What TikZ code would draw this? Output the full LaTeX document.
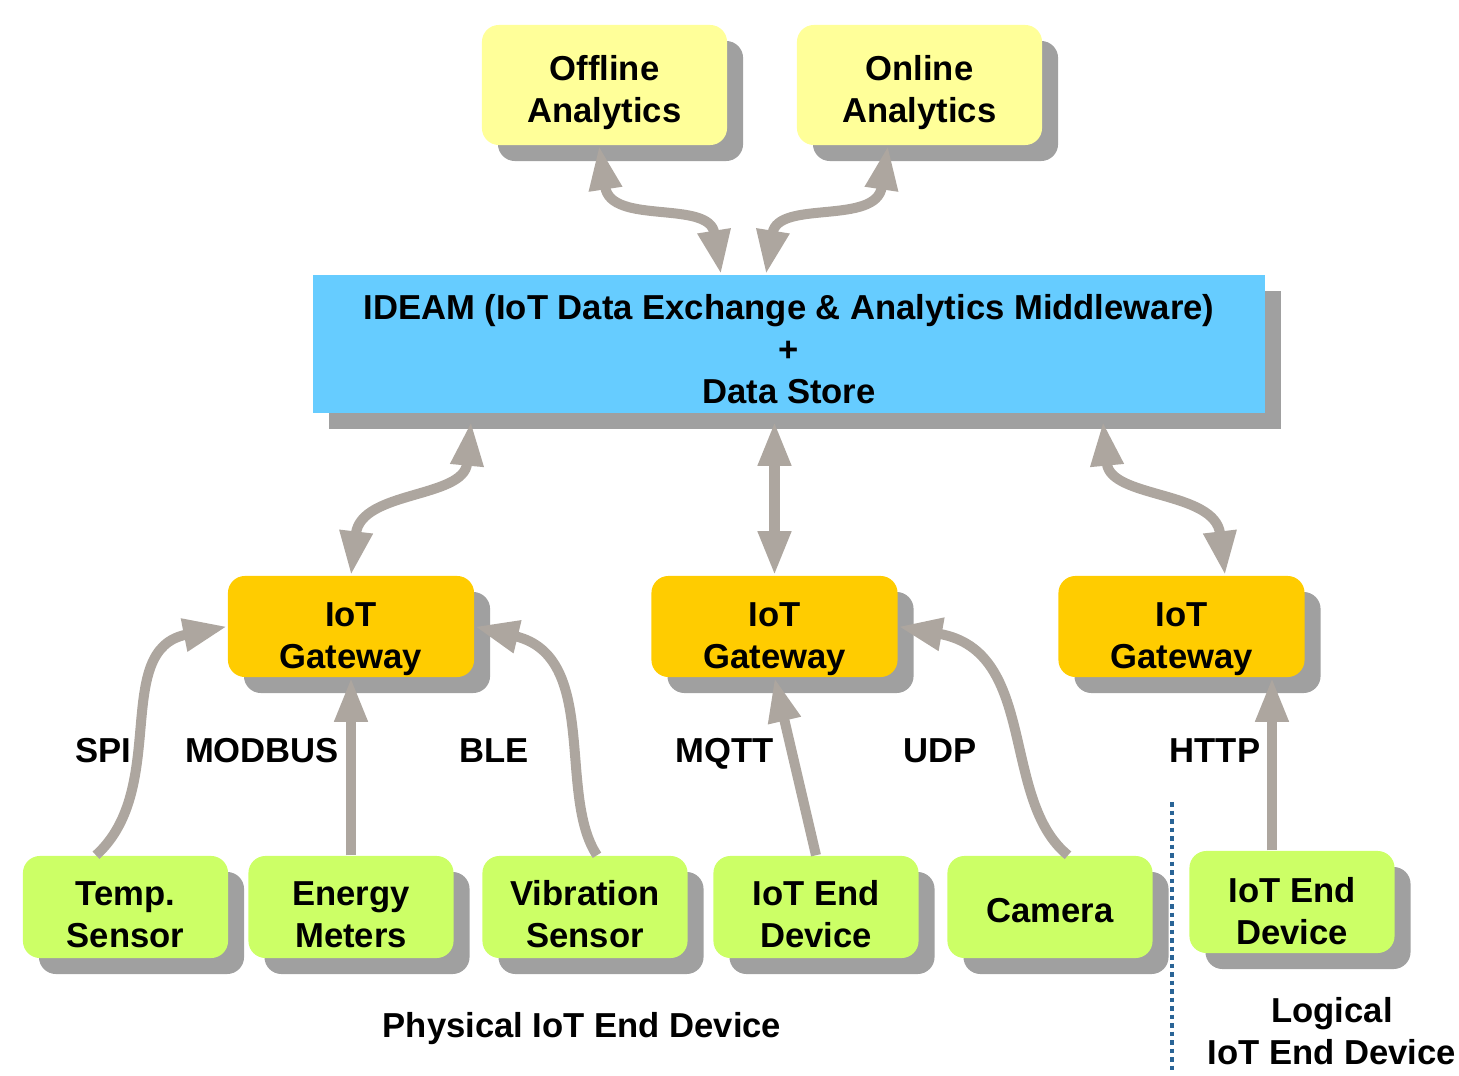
\documentclass[tikz,border=0pt]{standalone}
\usepackage{fontspec}
\setmainfont{Liberation Sans}
\usetikzlibrary{arrows.meta,shadows}

\definecolor{anyellow}{HTML}{FFFF99}
\definecolor{midblue}{HTML}{66CCFF}
\definecolor{gwgold}{HTML}{FFCC00}
\definecolor{devgreen}{HTML}{CCFF66}
\definecolor{shgray}{HTML}{A0A0A0}
\definecolor{linkgray}{HTML}{ADA69F}
\definecolor{sepblue}{HTML}{2A6496}

% invisible strut that pushes the first line of a box down
\newcommand{\toppad}[1]{\rule{0pt}{#1}}

\begin{document}
\begin{tikzpicture}[
    x=0.01cm, y=-0.01cm,
    every node/.style={font=\bfseries\fontsize{9.85}{11.9}\selectfont, align=center},
    box/.style={inner sep=0pt, rounded corners=0.17cm,
        drop shadow={shadow xshift=0.16cm, shadow yshift=-0.16cm, opacity=1, fill=shgray}},
    anbox/.style={box, fill=anyellow, minimum width=2.45cm, minimum height=1.2cm},
    gwbox/.style={box, fill=gwgold, minimum width=2.46cm, minimum height=1.01cm},
    devbox/.style={box, fill=devgreen, minimum width=2.05cm, minimum height=1.02cm},
    proto/.style={text height=7.1pt, text depth=0pt},
    link/.style={line width=0.1cm, linkgray, -{Triangle[length=0.44cm, width=0.31cm]}},
    duplex/.style={link, {Triangle[length=0.44cm, width=0.31cm]}-{Triangle[length=0.44cm, width=0.31cm]}},
    ]

    \useasboundingbox (0,0) rectangle (1459,1076);

    \node[anbox] (off) at (604.5,85) {\toppad{11.2pt}Offline\\Analytics};
    \node[anbox] (onl) at (919.5,85) {\toppad{11.2pt}Online\\Analytics};

    \node[box, sharp corners, fill=midblue, minimum width=9.52cm, minimum height=1.38cm]
    (ideam) at (789,344)
        {\toppad{10pt}IDEAM (IoT Data Exchange \& Analytics Middleware)\\+\\Data Store};

    \foreach \name/\x in {gwa/351, gwb/774.5, gwc/1181.5}{
    \node[gwbox] (\name) at (\x,626.5) {\toppad{13.9pt}IoT\\Gateway};
    }

    \foreach \name/\x/\pad/\txt in {temp/125.5/11.1pt/{Temp.\\Sensor},
                                   energy/351/11.1pt/{Energy\\Meters},
                                   vib/585/11.2pt/{Vibration\\Sensor},
                                   dev/816/11.2pt/{IoT End\\Device},
                                   cam/1050/8.9pt/Camera}{
    \node[devbox] (\name) at (\x,907) {\toppad{\pad}\txt};
    }
    \node[devbox] (ldev) at (1292,902) {\toppad{12.3pt}IoT End\\Device};

    % protocol labels
    \foreach \name/\x/\txt in {spi/103/SPI, modbus/262/MODBUS, ble/494/BLE,
                              mqtt/725/MQTT, udp/940/UDP, http/1215/HTTP}{
    \node[proto] (\name) at (\x,750) {\txt};
    }

    % analytics <-> middleware
    \draw[duplex] ([xshift=-0.055cm]off.south) .. controls +(12,80) and +(-12,-75)
    .. ([xshift=-0.68cm]ideam.north);
    \draw[duplex] ([xshift=-0.315cm]onl.south) .. controls +(-12,80) and +(12,-75)
    .. ([xshift=-0.23cm]ideam.north);

    % gateways <-> middleware
    \draw[duplex, shorten <=0.08cm] ([xshift=-3.17cm]ideam.south)
    .. controls +(-8,85) and +(10,-85) .. (gwa.north);
    \draw[duplex, shorten <=0.08cm] (gwb.north |- ideam.south) -- (gwb.north);
    \draw[duplex, shorten <=0.08cm] ([xshift=3.13cm]ideam.south)
    .. controls +(8,85) and +(-10,-85) .. ([xshift=0.435cm]gwc.north);

    % devices -> gateways
    \draw[link] ([xshift=-0.295cm]temp.north) .. controls +(74,-67) and +(-116,23) .. (gwa.west);
    \draw[link] (energy.north) -- (gwa.south);
    \draw[link] ([xshift=0.12cm]vib.north) .. controls +(-40,-60) and +(125,30) .. (gwa.east);
    \draw[link] (dev.north) -- (gwb.south);
    \draw[link] ([xshift=0.18cm]cam.north) .. controls +(-68,-55) and +(140,25) .. (gwb.east);
    \coordinate (hstart) at ([xshift=-0.2cm]ldev.north);
    \draw[link] (hstart) -- (hstart |- gwc.south);

    % physical / logical split
    \coordinate (septop) at (1172,802);
    \coordinate (sepbot) at (1172,1072);
    \draw[sepblue, line width=0.035cm, dash pattern=on 0.045cm off 0.04cm] (septop) -- (sepbot);

    \node[proto] (phys) at (582,1025) {Physical IoT End Device};
    \node (logi) at (1332,1031) {Logical\\IoT End Device};

\end{tikzpicture}
\end{document}
